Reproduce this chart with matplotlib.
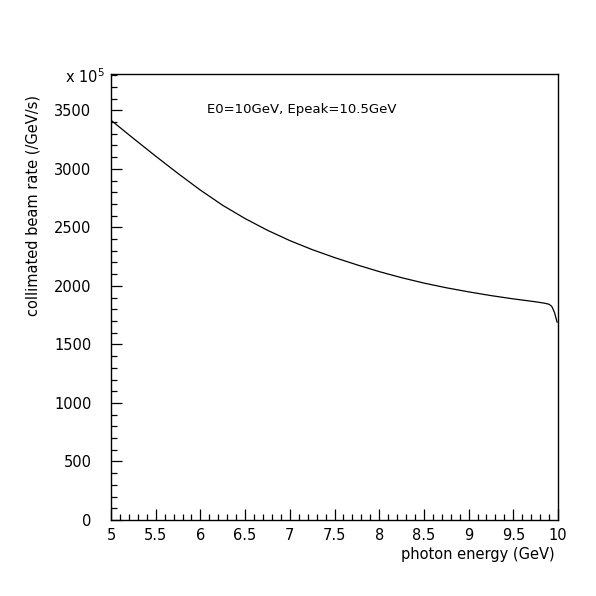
import matplotlib
matplotlib.use("Agg")
import matplotlib.pyplot as plt
from matplotlib.ticker import MultipleLocator

# photon energy (GeV) and collimated rate (x 1e5 /GeV/s)
energy = [5.0, 5.25, 5.5, 5.75, 6.0, 6.25, 6.5, 6.75, 7.0, 7.25, 7.5, 7.75,
          8.0, 8.25, 8.5, 8.75, 9.0, 9.25, 9.5, 9.75, 9.85, 9.9, 9.93, 9.96, 9.99]
rate = [3415, 3260, 3108, 2960, 2818, 2688, 2575, 2475, 2387, 2310, 2242, 2180,
        2122, 2070, 2024, 1984, 1949, 1917, 1889, 1864, 1852, 1843, 1825, 1775, 1690]

plt.rcParams['font.family'] = ['DejaVu Sans']

fig = plt.figure(figsize=(5.96, 5.96), dpi=100)
ax = fig.add_axes([111 / 596, 76 / 596, 447 / 596, 446 / 596])

ax.plot(energy, rate, color='black', linewidth=0.9)

ax.set_xlim(5, 10)
ax.set_ylim(0, 3810)
ax.xaxis.set_major_locator(MultipleLocator(0.5))
ax.xaxis.set_minor_locator(MultipleLocator(0.1))
ax.yaxis.set_major_locator(MultipleLocator(500))
ax.yaxis.set_minor_locator(MultipleLocator(100))
ax.set_xticks([5, 5.5, 6, 6.5, 7, 7.5, 8, 8.5, 9, 9.5, 10])
ax.set_xticklabels(['5', '5.5', '6', '6.5', '7', '7.5', '8', '8.5', '9', '9.5', '10'])

ax.tick_params(which='both', direction='in', top=False, right=False, labelsize=10.5)
ax.tick_params(which='major', length=8, width=0.9)
ax.tick_params(which='minor', length=4, width=0.9)
ax.tick_params(axis='y', pad=14)
ax.tick_params(axis='x', pad=6)
for s in ax.spines.values():
    s.set_linewidth(1.0)

fig.text(555 / 596, 1 - 555 / 596, 'photon energy (GeV)', ha='right', va='center', fontsize=10.5)
fig.text(33 / 596, 1 - 95 / 596, 'collimated beam rate (/GeV/s)', rotation=90,
         ha='center', va='top', fontsize=10.5)
fig.text(105 / 596, 1 - 77 / 596, r'x 10$^5$', ha='right', va='center', fontsize=10.5)
fig.text(207 / 596, 1 - 110 / 596, 'E0=10GeV, Epeak=10.5GeV', ha='left', va='center', fontsize=9.5)

fig.savefig('out.png', dpi=100)
